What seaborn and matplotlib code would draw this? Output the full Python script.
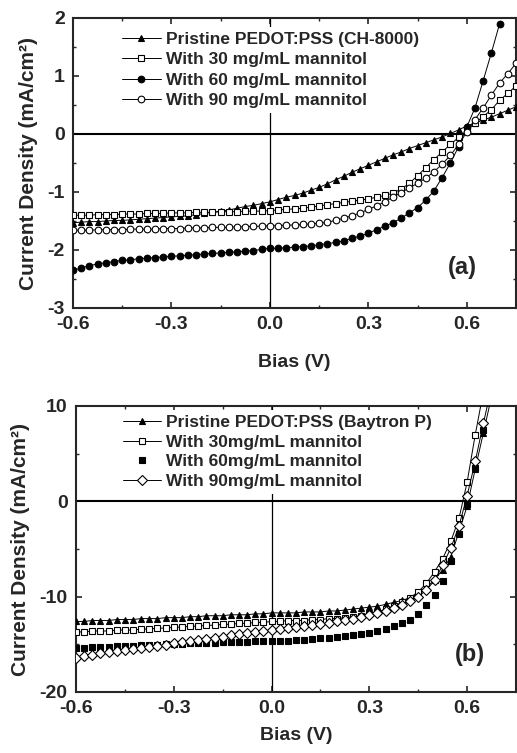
import numpy as np
import matplotlib
matplotlib.use("Agg")
import matplotlib.pyplot as plt
from matplotlib.ticker import MultipleLocator
import seaborn as sns

# bias sweep (V)
bias_a = np.round(np.arange(-0.6, 0.7501, 0.025), 3)
bias_b = np.round(np.arange(-0.6, 0.6751, 0.025), 3)

# (a) CH-8000 based devices, current density in mA/cm2
pristine_a = [-1.53, -1.52, -1.51, -1.51, -1.50, -1.49, -1.49, -1.48, -1.47, -1.46,
              -1.45, -1.44, -1.43, -1.42, -1.41, -1.39, -1.37, -1.35, -1.33, -1.31,
              -1.28, -1.25, -1.23, -1.20, -1.17, -1.13, -1.09, -1.06, -1.02, -0.97,
              -0.92, -0.86, -0.79, -0.73, -0.66, -0.60, -0.54, -0.48, -0.42, -0.36,
              -0.31, -0.25, -0.20, -0.15, -0.10, -0.05, 0.01, 0.07, 0.14, 0.19,
              0.24, 0.29, 0.35, 0.41, 0.47]
mannitol30_a = [-1.40, -1.40, -1.40, -1.39, -1.39, -1.39, -1.38, -1.38, -1.38, -1.37,
                -1.37, -1.37, -1.36, -1.36, -1.36, -1.35, -1.35, -1.35, -1.34, -1.34,
                -1.34, -1.33, -1.33, -1.33, -1.32, -1.31, -1.30, -1.29, -1.28, -1.26,
                -1.24, -1.22, -1.20, -1.18, -1.16, -1.14, -1.12, -1.09, -1.06, -1.02,
                -0.95, -0.85, -0.72, -0.58, -0.44, -0.31, -0.18, -0.06, 0.06, 0.19,
                0.30, 0.42, 0.58, 0.70, 0.83]
mannitol60_a = [-2.35, -2.31, -2.27, -2.24, -2.22, -2.20, -2.18, -2.17, -2.15, -2.14,
                -2.13, -2.12, -2.11, -2.10, -2.09, -2.08, -2.07, -2.06, -2.05, -2.04,
                -2.03, -2.02, -2.01, -1.99, -1.97, -1.97, -1.96, -1.95, -1.94, -1.93,
                -1.91, -1.89, -1.87, -1.84, -1.80, -1.76, -1.71, -1.65, -1.59, -1.53,
                -1.45, -1.36, -1.27, -1.14, -0.98, -0.75, -0.50, -0.22, 0.12, 0.45,
                0.92, 1.40, 1.90]
mannitol90_a = [-1.66, -1.66, -1.66, -1.65, -1.65, -1.65, -1.65, -1.64, -1.64, -1.64,
                -1.64, -1.63, -1.63, -1.63, -1.62, -1.62, -1.62, -1.61, -1.61, -1.61,
                -1.60, -1.60, -1.59, -1.59, -1.58, -1.58, -1.57, -1.57, -1.56, -1.55,
                -1.54, -1.52, -1.49, -1.45, -1.41, -1.36, -1.30, -1.24, -1.17, -1.09,
                -1.01, -0.93, -0.85, -0.76, -0.65, -0.52, -0.37, -0.18, 0.03, 0.25,
                0.45, 0.67, 0.88, 1.04, 1.22]

# (b) Baytron P based devices
pristine_b = [-12.6, -12.6, -12.5, -12.5, -12.5, -12.4, -12.4, -12.4, -12.3, -12.3,
              -12.3, -12.2, -12.2, -12.2, -12.1, -12.1, -12.0, -12.0, -12.0, -11.9,
              -11.9, -11.9, -11.8, -11.8, -11.7, -11.7, -11.7, -11.7, -11.6, -11.6,
              -11.6, -11.5, -11.5, -11.4, -11.3, -11.2, -11.1, -11.0, -10.8, -10.6,
              -10.4, -10.1, -9.7, -9.1, -8.2, -7.2, -5.8, -3.2, -0.5, 3.4,
              7.2, 11.0]
mannitol30_b = [-13.7, -13.7, -13.6, -13.6, -13.6, -13.5, -13.5, -13.5, -13.4, -13.4,
                -13.3, -13.3, -13.2, -13.2, -13.1, -13.1, -13.0, -13.0, -12.9, -12.9,
                -12.8, -12.8, -12.7, -12.7, -12.6, -12.6, -12.5, -12.5, -12.5, -12.4,
                -12.4, -12.3, -12.3, -12.2, -12.1, -12.0, -11.8, -11.6, -11.3, -11.0,
                -10.6, -10.1, -9.5, -8.6, -7.4, -6.0, -4.2, -1.8, 2.0, 7.0,
                11.5]
mannitol60_b = [-15.4, -15.4, -15.3, -15.3, -15.3, -15.2, -15.2, -15.2, -15.1, -15.1,
                -15.1, -15.0, -15.0, -15.0, -14.9, -14.9, -14.9, -14.9, -14.8, -14.8,
                -14.8, -14.8, -14.7, -14.7, -14.7, -14.6, -14.6, -14.5, -14.5, -14.4,
                -14.3, -14.3, -14.2, -14.1, -14.0, -13.9, -13.8, -13.6, -13.4, -13.1,
                -12.8, -12.4, -11.8, -10.9, -9.8, -8.4, -6.3, -3.4, -0.3, 3.5,
                7.5, 11.2]
mannitol90_b = [-16.4, -16.2, -16.1, -15.9, -15.8, -15.7, -15.6, -15.5, -15.4, -15.3,
                -15.2, -15.1, -14.9, -14.8, -14.7, -14.5, -14.4, -14.3, -14.2, -14.0,
                -13.9, -13.8, -13.7, -13.6, -13.5, -13.4, -13.3, -13.2, -13.1, -13.0,
                -12.9, -12.8, -12.6, -12.4, -12.3, -12.1, -11.9, -11.7, -11.5, -11.2,
                -10.9, -10.5, -10.0, -9.3, -8.3, -6.7, -4.9, -2.6, 0.6, 4.2,
                8.2, 12.0]

labels_a = ["Pristine PEDOT:PSS (CH-8000)", "With 30 mg/mL mannitol",
            "With 60 mg/mL mannitol", "With 90 mg/mL mannitol"]
labels_b = ["Pristine PEDOT:PSS (Baytron P)", "With 30mg/mL mannitol",
            "With 60mg/mL mannitol", "With 90mg/mL mannitol"]

sns.set_style("ticks")
plt.rcParams["font.family"] = ["Liberation Sans", "DejaVu Sans"]
plt.rcParams["font.weight"] = "bold"
plt.rcParams["axes.unicode_minus"] = False
plt.rcParams["xtick.direction"] = "in"
plt.rcParams["ytick.direction"] = "in"


def draw_panel(ax, bias, series, labels, styles, xpad):
    for y, lbl, (mk, fc, lw) in zip(series, labels, styles):
        sns.lineplot(x=bias[:len(y)], y=y, ax=ax, color="black", linewidth=lw,
                     marker=mk, markersize=4.8, markerfacecolor=fc,
                     markeredgecolor="black", markeredgewidth=0.8,
                     estimator=None, sort=False, label=lbl, zorder=3)
    ax.axhline(0, color="black", linewidth=1.5, zorder=2)
    ax.axvline(0, color="black", linewidth=0.9, zorder=2)
    ax.set_xlim(-0.6, 0.75)
    ax.xaxis.set_minor_locator(MultipleLocator(0.15))
    ax.set_xticks([-0.6, -0.3, 0.0, 0.3, 0.6])
    ax.set_xticklabels(["-0.6", "-0.3", "0.0", "0.3", "0.6"])
    ax.tick_params(which="both", top=True, right=True, labelsize=14, pad=6)
    ax.tick_params(which="major", length=4, width=1.2)
    ax.tick_params(which="minor", length=2.5, width=1.0)
    for sp in ax.spines.values():
        sp.set_linewidth(1.5)
    ax.set_xlabel("Bias (V)", fontsize=14, fontweight="bold", labelpad=xpad)
    ax.set_ylabel("Current Density (mA/cm\u00b2)", fontsize=15,
                  fontweight="bold", labelpad=7)
    for t in ax.get_xticklabels() + ax.get_yticklabels():
        t.set_fontweight("bold")


fig = plt.figure(figsize=(5.17, 7.53), dpi=100)
ax1 = fig.add_axes([73 / 517, 1 - 308 / 753, 443 / 517, 290 / 753])
ax2 = fig.add_axes([76 / 517, 1 - 692 / 753, 440 / 517, 286 / 753])

styles_a = [("^", "black", 0.7), ("s", "white", 0.7),
            ("o", "black", 0.7), ("o", "white", 0.7)]
styles_b = [("^", "black", 0.7), ("s", "white", 0.7),
            ("s", "black", 0.0), ("D", "white", 0.7)]

draw_panel(ax1, bias_a, [pristine_a, mannitol30_a, mannitol60_a, mannitol90_a],
           labels_a, styles_a, xpad=15)
ax1.set_ylim(-3, 2)
ax1.yaxis.set_major_locator(MultipleLocator(1))
ax1.yaxis.set_minor_locator(MultipleLocator(0.5))

draw_panel(ax2, bias_b, [pristine_b, mannitol30_b, mannitol60_b, mannitol90_b],
           labels_b, styles_b, xpad=7)
ax2.set_ylim(-20, 10)
ax2.yaxis.set_major_locator(MultipleLocator(10))
ax2.yaxis.set_minor_locator(MultipleLocator(5))

for ax, anchor, spacing in [(ax1, (0.08, 1.0), 0.3), (ax2, (0.075, 1.017), 0.25)]:
    leg = ax.legend(loc="upper left", bbox_to_anchor=anchor, frameon=True,
                    facecolor="white", edgecolor="none", framealpha=1,
                    fancybox=False, fontsize=12.5, handlelength=2.2,
                    handletextpad=0.3, labelspacing=spacing, borderpad=0.3)
    for t in leg.get_texts():
        t.set_fontweight("bold")

ax1.text(0.88, 0.141, "(a)", transform=ax1.transAxes, fontsize=17,
         fontweight="bold", ha="center", va="center")
ax2.text(0.895, 0.13, "(b)", transform=ax2.transAxes, fontsize=17,
         fontweight="bold", ha="center", va="center")

fig.savefig("out.png", dpi=100)
